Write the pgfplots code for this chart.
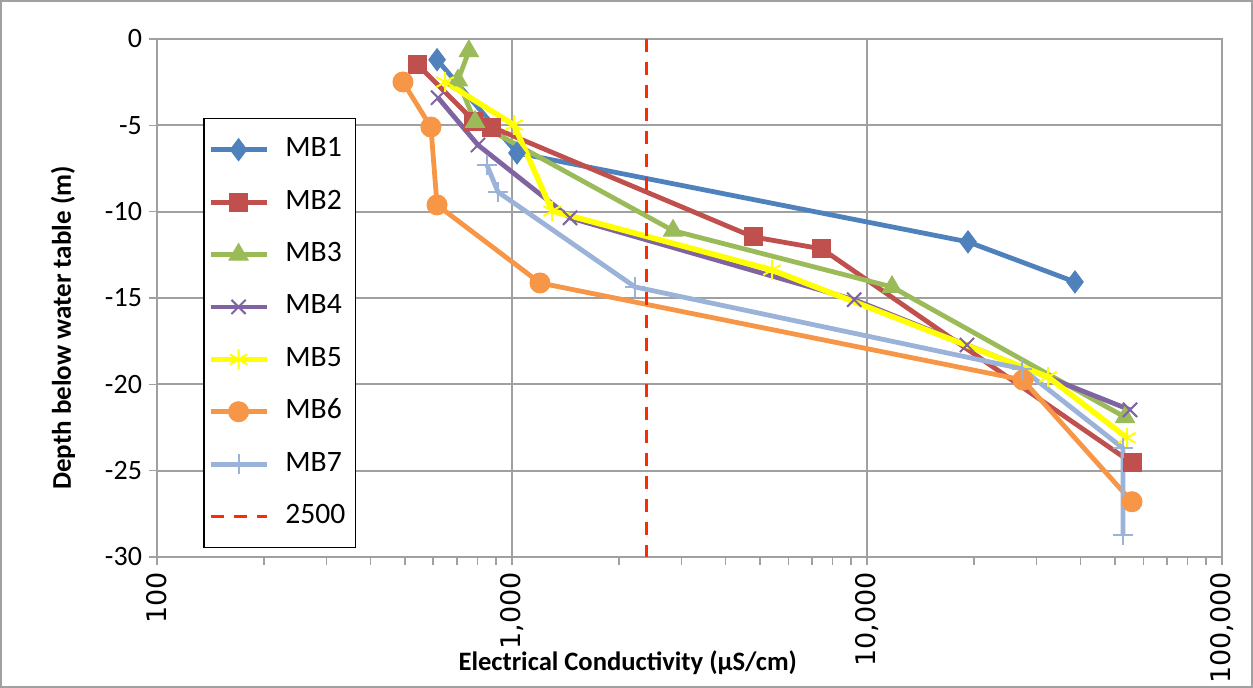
\documentclass[border=0pt]{standalone}
\usepackage{fontspec}
\setmainfont{Carlito}
\newfontfamily\dejavu{DejaVu Sans}
\usepackage{pgfplots}
\pgfplotsset{compat=1.18}
\definecolor{cA}{HTML}{4F81BD}
\definecolor{cB}{HTML}{C0504D}
\definecolor{cC}{HTML}{9BBB59}
\definecolor{cD}{HTML}{8064A2}
\definecolor{cE}{HTML}{FFFF00}
\definecolor{cF}{HTML}{F79646}
\definecolor{cG}{HTML}{9BB3D8}
\definecolor{cR}{HTML}{FF2A00}
\definecolor{gridc}{HTML}{A0A0A0}
\begin{document}
\begin{tikzpicture}
\begin{axis}[
  scale only axis, width=532.5pt, height=259pt,
  xmode=log, log basis x=10,
  xmin=100, xmax=100000, ymin=-30, ymax=0,
  xtick={100,1000,10000,100000},
  xticklabels={100,{1,000},{10,000},{100,000}},
  minor xtick={200,300,400,500,600,700,800,900,2000,3000,4000,5000,6000,7000,8000,9000,20000,30000,40000,50000,60000,70000,80000,90000},
  ytick={-30,-25,-20,-15,-10,-5,0},
  yticklabels={-30,-25,-20,-15,-10,-5,0},
  xmajorgrids, ymajorgrids,
  major grid style={gridc, line width=1pt},
  axis line style={gridc, line width=1pt},
  tick style={gridc, line width=0.75pt},
  major tick length=4pt, minor tick length=4pt,
  tick align=outside, tick pos=left,
  xticklabel style={rotate=90, anchor=east, font=\dejavu\fontsize{13.5}{15}\selectfont},
  yticklabel style={font=\fontsize{14}{16}\selectfont},
  xlabel={\textbf{Electrical Conductivity (µS/cm)}},
  ylabel={\textbf{Depth below water table (m)}},
  xlabel style={at={(axis description cs:0.442,-0.2046)}, anchor=center, font=\fontsize{13.3}{16}\selectfont},
  ylabel style={at={(axis description cs:-0.0883,0.442)}, anchor=center, font=\fontsize{13.5}{16}\selectfont},
  legend cell align=left,
  legend image code/.code={\draw[mark repeat=2,mark phase=2] plot coordinates {(0pt,0pt) (14pt,0pt) (28pt,0pt)};},
  legend style={at={(0.0432,0.8475)}, anchor=north west, draw=black, line width=0.75pt,
    font=\fontsize{14.8}{17}\selectfont, inner xsep=2pt, inner ysep=9pt, row sep=13.2pt,
    nodes={inner xsep=3pt, inner ysep=0pt, text height=10pt, text depth=3pt},
    /tikz/every odd column/.append style={column sep=5pt}},
  every axis plot/.append style={line width=2.4pt},
]
\addplot[cA, mark=diamond*, mark size=5.5pt, mark options={solid, fill=cA, line width=0.5pt}]
  coordinates {(615,-1.2) (1033,-6.6) (19255,-11.75) (38540,-14.07)};
\addlegendentry{MB1}
\addplot[cB, mark=square*, mark size=4.5pt, mark options={solid, fill=cB, line width=0.5pt}]
  coordinates {(543,-1.5) (781,-4.75) (878,-5.1) (4775,-11.46) (7468,-12.16) (55780,-24.55)};
\addlegendentry{MB2}
\addplot[cC, mark=triangle*, mark size=5.5pt, mark options={solid, fill=cC, line width=0.5pt}]
  coordinates {(756,-0.7) (704,-2.4) (787,-4.8) (2842,-11.1) (11760,-14.36) (53310,-21.9)};
\addlegendentry{MB3}
\addplot[cD, mark=x, mark size=5pt, mark options={solid, line width=1pt}]
  coordinates {(619,-3.4) (802,-6.14) (1457,-10.36) (9200,-15.1) (19130,-17.72) (55060,-21.48)};
\addlegendentry{MB4}
\addplot[cE, line width=2.8pt, mark=asterisk, mark size=5pt, mark options={solid, line width=1pt}]
  coordinates {(648,-2.49) (1013,-4.98) (1297,-9.96) (5400,-13.38) (32360,-19.57) (54000,-23.1)};
\addlegendentry{MB5}
\addplot[cF, mark=*, mark size=5pt, mark options={solid, fill=cF, line width=0.5pt}]
  coordinates {(493,-2.49) (591,-5.1) (615,-9.61) (1199,-14.13) (27500,-19.75) (55780,-26.8)};
\addlegendentry{MB6}
\addplot[cG, mark=+, mark size=5pt, mark options={solid, line width=1pt}]
  coordinates {(850,-7.3) (913,-8.86) (2221,-14.36) (27330,-19.1) (52620,-23.7) (52620,-28.7)};
\addlegendentry{MB7}
\addplot[cR, line width=1.5pt, dash pattern=on 6.5pt off 5pt]
  coordinates {(2400,0) (2400,-30)};
\addlegendentry{2500}
\end{axis}
\draw[gridc, line width=0.75pt] (-78pt,-65pt) rectangle (547.6pt,278.1pt);
\pgfresetboundingbox
\path[use as bounding box] (-78.5pt,-65.5pt) rectangle (548pt,278.5pt);
\end{tikzpicture}
\end{document}
